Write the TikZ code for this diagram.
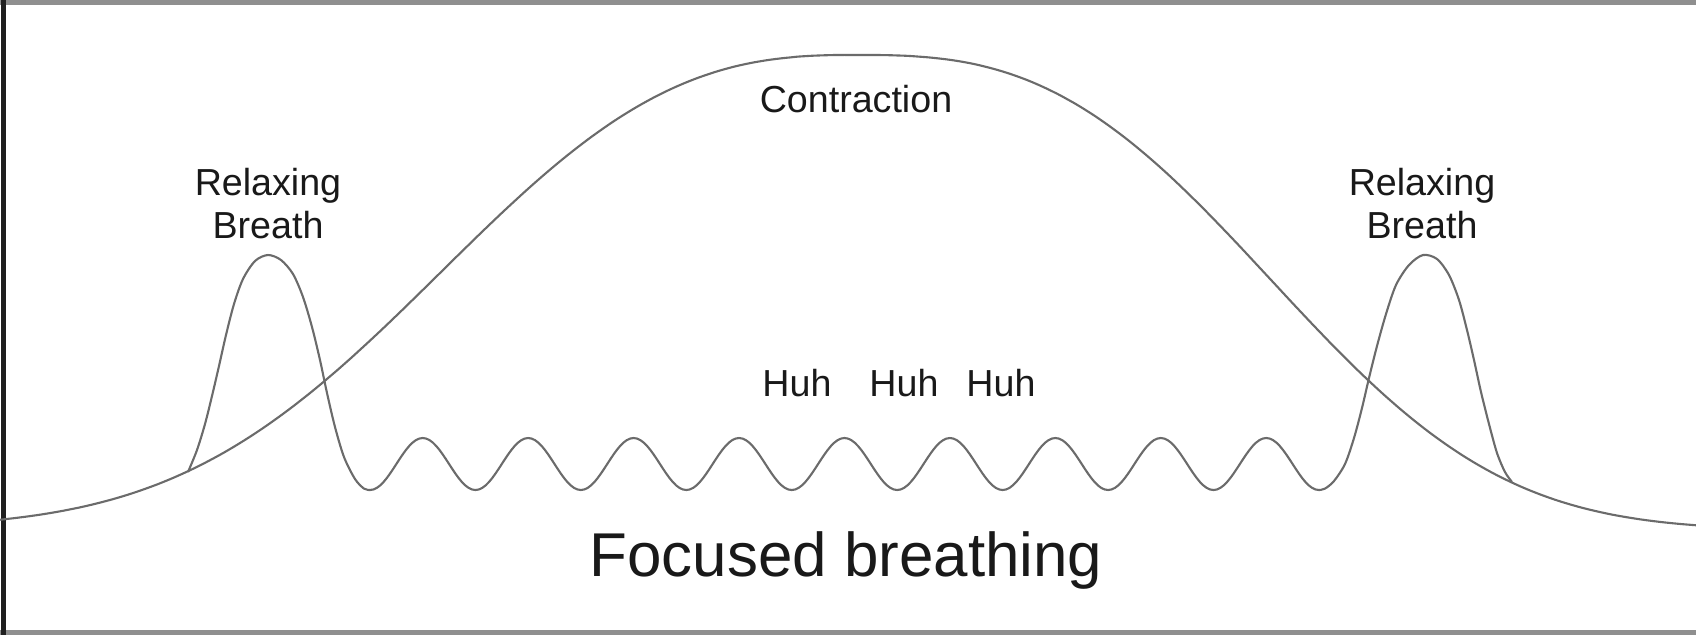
\documentclass[tikz,border=0pt]{standalone}
\usepackage{fontspec}
\setmainfont{Liberation Sans}
\tikzset{
  curve/.style={line width=0.6pt,draw=black!58,line join=round},
  lbl/.style={inner sep=0pt,text=black!90,font=\fontsize{10.7}{12.2}\selectfont,align=center},
  big/.style={inner sep=0pt,text=black!90,font=\fontsize{17.6}{20}\selectfont}
}
\begin{document}
\begin{tikzpicture}[x=0.01cm,y=-0.01cm]
\useasboundingbox (0,0) rectangle (1696,635);
% frame
\fill[black!44] (0,0) rectangle (1696,5); \fill[black!44] (0,630) rectangle (1696,635);
\fill[black!88] (1,0) rectangle (6,635);
% contraction
\draw[curve] plot[smooth,domain=0:855,samples=120] (\x,{528-473*exp(-pow(abs(\x-855)/500+0.001,2.6))})
  -- plot[smooth,domain=855:1696,samples=120] (\x,{530-475*exp(-pow(abs(\x-855)/488+0.001,2.8))});
% breathing
\draw[curve] plot[smooth] coordinates {(188,472) (197,450) (205,424) (212,396) (219,366) (226,335)
  (234,304) (243,279) (255,261) (268,255) (281,260) (293,274) (303,297) (312,327) (320,360)
  (327,393) (335,427) (344,457) (355,479) (364,488.6) (370,490)};
\draw[curve] (370,490) foreach \k in {1,...,9} {cos ++(26.36,-26) sin ++(26.36,-26) cos ++(26.36,26) sin ++(26.36,26)};
\draw[curve] plot[smooth] coordinates {(1319,490) (1325,488.6) (1334,481) (1345,464) (1354,438) (1362,408) (1369,378)
  (1377,346) (1386,314) (1396,285) (1409,265) (1423,255) (1437,259) (1449,275) (1459,300) (1467,330)
  (1474,360) (1481,392) (1489,424) (1497,453) (1505,472) (1512,482)};
% labels
\node[lbl,anchor=base] (cont) at (856,112) {Contraction};
\node[lbl,anchor=base] (relaxL) at (268,238) {Relaxing\\Breath};
\node[lbl,anchor=base] (relaxR) at (1422,238) {Relaxing\\Breath};
\foreach \x [count=\i] in {797,904,1001}
  \node[lbl,anchor=base] (huh\i) at (\x,396) {Huh};
\node[big,anchor=base] (focus) at (846,576) {Focused breathing};
\end{tikzpicture}
\end{document}
